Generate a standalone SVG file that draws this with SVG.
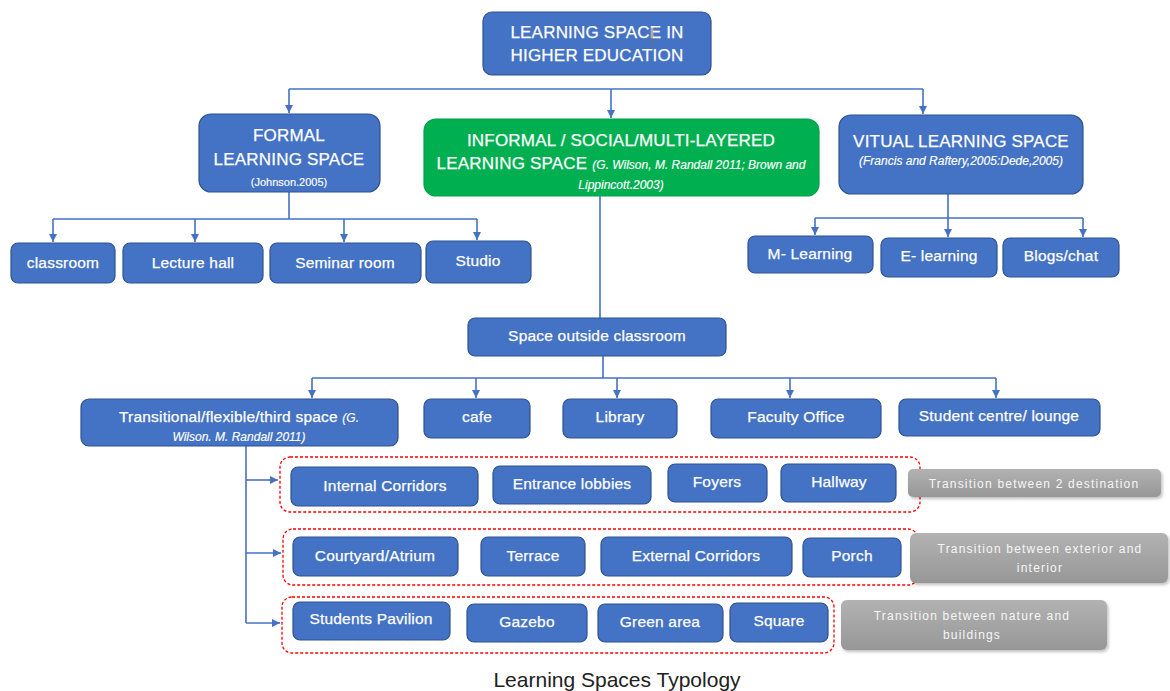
<svg xmlns="http://www.w3.org/2000/svg" width="1170" height="691" viewBox="0 0 1170 691">
  <style>
    .box{fill:#4472C4;stroke:#2F528F;stroke-width:1.2}
    .green{fill:#00B050;stroke:#00A04A;stroke-width:1.2}
    .grey{fill:url(#greyFill);filter:url(#shadow)}
    .grp{fill:none;stroke:#FF0000;stroke-width:1.3;stroke-dasharray:3 2}
    .wire{fill:none;stroke:#4472C4;stroke-width:1.6}
    .arr{marker-end:url(#head)}
    text{font-family:"Liberation Sans",Arial,sans-serif;fill:#FFFFFF;text-anchor:middle;stroke:#FFFFFF;stroke-width:0.25}
    .big{font-size:17px;letter-spacing:0.2px}
    .mid{font-size:15.5px;letter-spacing:0.2px}
    .cite{font-size:12px;font-style:italic;stroke-width:0.15}
    .note{font-size:12px;letter-spacing:1.2px;fill:#F6F6F6;stroke:none}
    .cap{font-size:21px;fill:#222222;stroke:none}
  </style>
  <defs>
    <marker id="head" viewBox="0 0 10 10" refX="10" refY="5" markerWidth="8" markerHeight="8" markerUnits="userSpaceOnUse" orient="auto">
      <path d="M0,0 L10,5 L0,10 Z" fill="#4472C4"/>
    </marker>
    <linearGradient id="greyFill" x1="0" y1="0" x2="0" y2="1">
      <stop offset="0" stop-color="#B2B2B2"/>
      <stop offset="1" stop-color="#979797"/>
    </linearGradient>
    <filter id="shadow" x="-5%" y="-20%" width="110%" height="150%">
      <feDropShadow dx="1.5" dy="2" stdDeviation="1.5" flood-color="#000" flood-opacity="0.25"/>
    </filter>
  </defs>

  <!-- connectors -->
  <g id="connectors">
    <path class="wire" d="M289,89 H923"/>
    <path class="wire arr" d="M289,89 V113"/>
    <path class="wire arr" d="M611,89 V118"/>
    <path class="wire arr" d="M923,89 V114"/>

    <path class="wire" d="M289,192 V219 M53,219 H477"/>
    <path class="wire arr" d="M53,219 V242"/>
    <path class="wire arr" d="M195,219 V242"/>
    <path class="wire arr" d="M344,219 V242"/>
    <path class="wire arr" d="M477,219 V240"/>

    <path class="wire" d="M948,194 V218 M815,218 H1083"/>
    <path class="wire arr" d="M815,218 V235"/>
    <path class="wire arr" d="M948,218 V237"/>
    <path class="wire arr" d="M1083,218 V237"/>

    <path class="wire" d="M600,196 V318"/>

    <path class="wire" d="M603,356 V378 M312,378 H996"/>
    <path class="wire arr" d="M312,378 V398"/>
    <path class="wire arr" d="M476,378 V398"/>
    <path class="wire arr" d="M617,378 V398"/>
    <path class="wire arr" d="M790,378 V398"/>
    <path class="wire arr" d="M996,378 V398"/>

    <path class="wire" d="M246,446 V623"/>
    <path class="wire arr" d="M246,480 H278"/>
    <path class="wire arr" d="M246,553 H281"/>
    <path class="wire arr" d="M246,623 H280"/>
  </g>

  <!-- root -->
  <g id="root">
    <rect class="box" x="483" y="12" width="228" height="63" rx="9"/>
    <text class="big" x="597" y="38">LEARNING SPACE IN</text>
    <text class="big" x="597" y="61">HIGHER EDUCATION</text>
    <line x1="652" y1="28" x2="652" y2="44" stroke="#8B6A3E" stroke-width="1"/>
  </g>

  <!-- first level -->
  <g id="formal">
    <rect class="box" x="199" y="114" width="181" height="78" rx="12"/>
    <text class="big" x="289" y="141">FORMAL</text>
    <text class="big" x="289" y="165">LEARNING SPACE</text>
    <text class="cite" x="289" y="186" style="font-style:normal;font-size:11px">(Johnson.2005)</text>
  </g>
  <g id="informal">
    <rect class="green" x="424" y="119" width="395" height="77" rx="12"/>
    <text class="big" x="621" y="146">INFORMAL / SOCIAL/MULTI-LAYERED</text>
    <text x="621" y="169"><tspan class="big">LEARNING SPACE </tspan><tspan class="cite">(G. Wilson, M. Randall 2011; Brown and</tspan></text>
    <text class="cite" x="621" y="189">Lippincott.2003)</text>
  </g>
  <g id="virtual">
    <rect class="box" x="839" y="115" width="244" height="79" rx="12"/>
    <text class="big" x="961" y="147">VITUAL LEARNING SPACE</text>
    <text class="cite" x="961" y="165">(Francis and Raftery,2005:Dede,2005)</text>
  </g>

  <!-- formal spaces -->
  <g id="classroom">
    <rect class="box" x="11" y="243" width="104" height="40" rx="7"/>
    <text class="mid" x="63" y="268">classroom</text>
  </g>
  <g id="lecture-hall">
    <rect class="box" x="123" y="243" width="140" height="40" rx="7"/>
    <text class="mid" x="193" y="268">Lecture hall</text>
  </g>
  <g id="seminar-room">
    <rect class="box" x="270" y="243" width="151" height="40" rx="7"/>
    <text class="mid" x="345" y="268">Seminar room</text>
  </g>
  <g id="studio">
    <rect class="box" x="426" y="241" width="105" height="42" rx="7"/>
    <text class="mid" x="478" y="266">Studio</text>
  </g>

  <!-- virtual spaces -->
  <g id="m-learning">
    <rect class="box" x="748" y="236" width="125" height="37" rx="7"/>
    <text class="mid" x="810" y="259">M- Learning</text>
  </g>
  <g id="e-learning">
    <rect class="box" x="881" y="238" width="116" height="39" rx="7"/>
    <text class="mid" x="939" y="261">E- learning</text>
  </g>
  <g id="blogs-chat">
    <rect class="box" x="1003" y="238" width="116" height="39" rx="7"/>
    <text class="mid" x="1061" y="261">Blogs/chat</text>
  </g>

  <!-- informal spaces -->
  <g id="space-outside">
    <rect class="box" x="468" y="318" width="258" height="38" rx="7"/>
    <text class="mid" x="597" y="341">Space outside classroom</text>
  </g>
  <g id="transitional">
    <rect class="box" x="81" y="399" width="317" height="47" rx="8"/>
    <text x="239" y="422"><tspan class="mid">Transitional/flexible/third space </tspan><tspan class="cite">(G.</tspan></text>
    <text class="cite" x="239" y="441">Wilson. M. Randall 2011)</text>
  </g>
  <g id="cafe">
    <rect class="box" x="424" y="399" width="106" height="39" rx="7"/>
    <text class="mid" x="477" y="422">cafe</text>
  </g>
  <g id="library">
    <rect class="box" x="563" y="399" width="114" height="39" rx="7"/>
    <text class="mid" x="620" y="422">Library</text>
  </g>
  <g id="faculty-office">
    <rect class="box" x="711" y="399" width="170" height="39" rx="7"/>
    <text class="mid" x="796" y="422">Faculty Office</text>
  </g>
  <g id="student-centre">
    <rect class="box" x="899" y="399" width="201" height="37" rx="7"/>
    <text class="mid" x="999" y="421">Student centre/ lounge</text>
  </g>

  <!-- transition between 2 destinations -->
  <g id="group-destinations">
    <rect class="grp" x="280" y="457" width="640" height="55" rx="10"/>
    <g id="internal-corridors">
      <rect class="box" x="291" y="467" width="187" height="39" rx="7"/>
      <text class="mid" x="385" y="491">Internal Corridors</text>
    </g>
    <g id="entrance-lobbies">
      <rect class="box" x="493" y="466" width="158" height="38" rx="7"/>
      <text class="mid" x="572" y="489">Entrance lobbies</text>
    </g>
    <g id="foyers">
      <rect class="box" x="668" y="464" width="99" height="38" rx="7"/>
      <text class="mid" x="717" y="487">Foyers</text>
    </g>
    <g id="hallway">
      <rect class="box" x="781" y="464" width="115" height="38" rx="7"/>
      <text class="mid" x="839" y="487">Hallway</text>
    </g>
    <g id="note-destinations">
      <rect class="grey" x="908" y="469" width="253" height="28" rx="5"/>
      <text class="note" x="1034" y="488">Transition between 2 destination</text>
    </g>
  </g>

  <!-- transition between exterior and interior -->
  <g id="group-exterior">
    <rect class="grp" x="283" y="529" width="635" height="56" rx="10"/>
    <g id="courtyard">
      <rect class="box" x="293" y="537" width="165" height="39" rx="7"/>
      <text class="mid" x="375" y="561">Courtyard/Atrium</text>
    </g>
    <g id="terrace">
      <rect class="box" x="481" y="537" width="104" height="39" rx="7"/>
      <text class="mid" x="533" y="561">Terrace</text>
    </g>
    <g id="external-corridors">
      <rect class="box" x="601" y="537" width="191" height="39" rx="7"/>
      <text class="mid" x="696" y="561">External  Corridors</text>
    </g>
    <g id="porch">
      <rect class="box" x="803" y="538" width="98" height="39" rx="7"/>
      <text class="mid" x="852" y="561">Porch</text>
    </g>
    <g id="note-exterior">
      <rect class="grey" x="910" y="533" width="258" height="50" rx="6"/>
      <text class="note" x="1040" y="553">Transition between exterior and</text>
      <text class="note" x="1040" y="572">interior</text>
    </g>
  </g>

  <!-- transition between nature and buildings -->
  <g id="group-nature">
    <rect class="grp" x="282" y="597" width="552" height="56" rx="10"/>
    <g id="students-pavilion">
      <rect class="box" x="293" y="602" width="157" height="38" rx="7"/>
      <text class="mid" x="371" y="624">Students Pavilion</text>
    </g>
    <g id="gazebo">
      <rect class="box" x="467" y="604" width="120" height="38" rx="7"/>
      <text class="mid" x="527" y="627">Gazebo</text>
    </g>
    <g id="green-area">
      <rect class="box" x="598" y="604" width="125" height="38" rx="7"/>
      <text class="mid" x="660" y="627">Green area</text>
    </g>
    <g id="square">
      <rect class="box" x="730" y="603" width="98" height="39" rx="7"/>
      <text class="mid" x="779" y="626">Square</text>
    </g>
    <g id="note-nature">
      <rect class="grey" x="841" y="600" width="266" height="50" rx="6"/>
      <text class="note" x="972" y="620">Transition between nature and</text>
      <text class="note" x="972" y="639">buildings</text>
    </g>
  </g>

  <text class="cap" x="617" y="687">Learning Spaces Typology</text>
</svg>
